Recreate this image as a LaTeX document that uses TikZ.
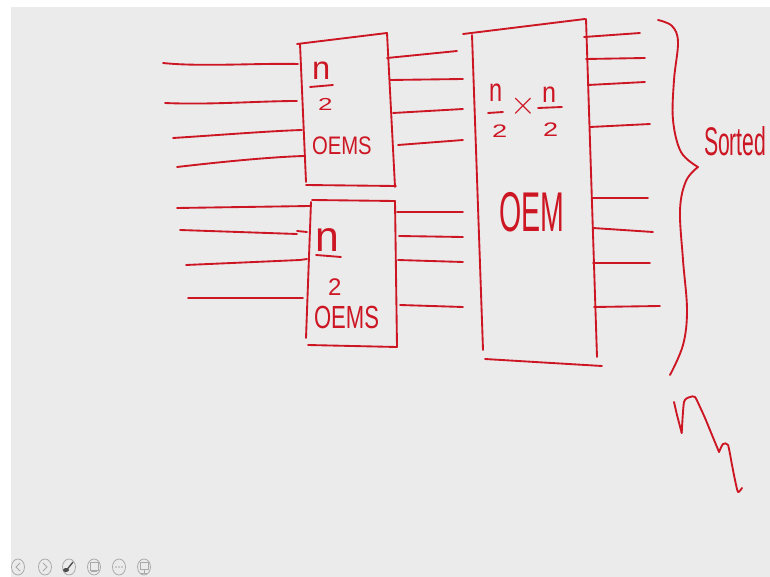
\documentclass[tikz,border=0pt]{standalone}
\usepackage{fontspec}
\setmainfont{Liberation Sans}
\definecolor{ink}{RGB}{205,22,35}
\definecolor{board}{RGB}{235,235,235}
\definecolor{icon}{RGB}{170,170,170}
\tikzset{
  pen/.style={draw=ink, line width=1.4pt, line cap=round, line join=round},
  lbl/.style={text=ink, inner sep=0pt, outer sep=0pt},
  btn/.style={draw=icon, line width=0.6pt},
}
\begin{document}
\begin{tikzpicture}[x=0.75pt,y=-0.75pt]
\clip (0,0) rectangle (770,577);
\fill[white] (0,0) rectangle (770,577);
\fill[board] (11,7) rectangle (770,577);

% ---- upper n/2 sorter ----
\draw[pen] (297,44) -- (387,33);
\draw[pen] (300,44) -- (306,182);
\draw[pen] (387,33) -- (395,187);
\draw[pen] (306,185) -- (396,186);
% inputs
\draw[pen] (163,63) .. controls (200,67) and (260,63) .. (298,64);
\draw[pen] (165,103) .. controls (210,105) and (260,101) .. (297,101);
\draw[pen] (173,138) .. controls (220,135) and (270,131) .. (302,130);
\draw[pen] (177,167) .. controls (220,162) and (270,157) .. (304,156);
% outputs
\draw[pen] (387,58) -- (457,51);
\draw[pen] (390,80) -- (463,79);
\draw[pen] (393,113) -- (463,109);
\draw[pen] (398,145) -- (463,140);
% label
\node[lbl, anchor=base west, font=\fontsize{24.5}{24.5}\selectfont] (na) at (312,80) {n};
\draw[pen] (310,87) -- (333,85);
\node[lbl, anchor=base west, xscale=1.5, font=\fontsize{13}{13}\selectfont] (da) at (318,111) {2};
\node[lbl, anchor=base west, xscale=0.8, font=\fontsize{19}{19}\selectfont] (oa) at (312,155) {OEMS};

% ---- lower n/2 sorter ----
\draw[pen] (312,200) -- (395,201);
\draw[pen] (311,202) -- (306,338);
\draw[pen] (395,201) -- (397,347);
\draw[pen] (308,345) -- (397,347);
% inputs
\draw[pen] (177,208) -- (310,206);
\draw[pen] (180,230) -- (297,234);
\draw[pen] (297,231) -- (307,232);
\draw[pen] (186,265) -- (300,260);
\draw[pen] (300,260) -- (307,259);
\draw[pen] (188,298) -- (303,298);
% outputs
\draw[pen] (397,212) -- (463,212);
\draw[pen] (399,236) -- (463,237);
\draw[pen] (398,260) -- (463,262);
\draw[pen] (400,305) -- (463,307);
% label
\node[lbl, anchor=base west, font=\fontsize{32}{32}\selectfont] (nb) at (315,252) {n};
\draw[pen] (316,255) -- (341,257);
\node[lbl, anchor=base west, font=\fontsize{18}{18}\selectfont] (db) at (328,295) {2};
\node[lbl, anchor=base west, xscale=0.69, font=\fontsize{24}{24}\selectfont] (ob) at (314,328) {OEMS};

% ---- n/2 x n/2 merger ----
\draw[pen] (463,34) -- (585,19);
\draw[pen] (472,35) -- (483,350);
\draw[pen] (586,19) -- (597,357);
\draw[pen] (485,359) -- (602,366);
% outputs
\draw[pen] (584,37) -- (640,33);
\draw[pen] (586,59) -- (645,58);
\draw[pen] (588,85) -- (645,82);
\draw[pen] (590,127) -- (650,124);
\draw[pen] (592,198) -- (648,198);
\draw[pen] (593,228) -- (653,232);
\draw[pen] (593,263) -- (650,263);
\draw[pen] (594,307) -- (660,306);
% label
\node[lbl, anchor=base west, xscale=0.72, font=\fontsize{24.5}{24.5}\selectfont] (nc) at (489,102) {n};
\draw[pen] (488,113) -- (503,112);
\node[lbl, anchor=base west, xscale=1.5, font=\fontsize{13.6}{13.6}\selectfont] (dc) at (492,138) {2};
\node[lbl, font=\fontsize{25}{25}\selectfont] (xc) at (523.5,106.5) {$\times$};
\node[lbl, anchor=base west, xscale=0.87, font=\fontsize{21.7}{21.7}\selectfont] (nd) at (542,103) {n};
\draw[pen] (538,108) -- (562,107);
\node[lbl, anchor=base west, xscale=1.38, font=\fontsize{14.7}{14.7}\selectfont] (dd) at (543,137) {2};
\node[lbl, anchor=base west, xscale=0.51, font=\fontsize{42}{42}\selectfont] (oc) at (499,232) {OEM};

% ---- brace and note ----
\draw[pen] plot[smooth, tension=0.6] coordinates {(658,20) (672,26) (678,42) (674,80) (673,120) (681,152) (698,167)};
\draw[pen] plot[smooth, tension=0.6] coordinates {(698,167) (686,181) (680,210) (683,260) (687,310) (683,345) (670,375)};
\node[lbl, anchor=base west, xscale=0.53, font=\fontsize{30}{30}\selectfont] (st) at (704,156) {Sorted};
\draw[pen] plot[smooth, tension=0.3] coordinates {(674,402) (677,415) (681.7,433)};
\draw[pen] plot[smooth, tension=0.4] coordinates {(681.7,433) (684,402) (690,397) (695,397) (700,407) (705,418) (712,435) (719,452)};
\draw[pen] plot[smooth, tension=0.4] coordinates {(719,452) (723,444) (728,445) (732,465) (735,480) (738,492) (742,488)};

% ---- player buttons ----
\foreach \cx in {18,45,69,94,119,144}
  \draw[btn] (\cx,567) ellipse [x radius=6.5, y radius=8];
\draw[btn] (20,563) -- (16,567) -- (20,571);
\draw[btn] (43,563) -- (47,567) -- (43,571);
\draw[draw=black!70, line width=1pt] (65,572) -- (73,562);
\fill[black!70] (66,570) ellipse [x radius=3, y radius=2];
\draw[btn] (90,562) rectangle (98,570);
\draw[btn] (91,571) -- (97,571);
\fill[icon] (116,567) circle (0.8) (119,567) circle (0.8) (122,567) circle (0.8);
\draw[btn] (140,562) rectangle (148,569);
\draw[btn] (144,569) -- (144,573);
\draw[btn] (141,573) -- (147,573);
\end{tikzpicture}
\end{document}
